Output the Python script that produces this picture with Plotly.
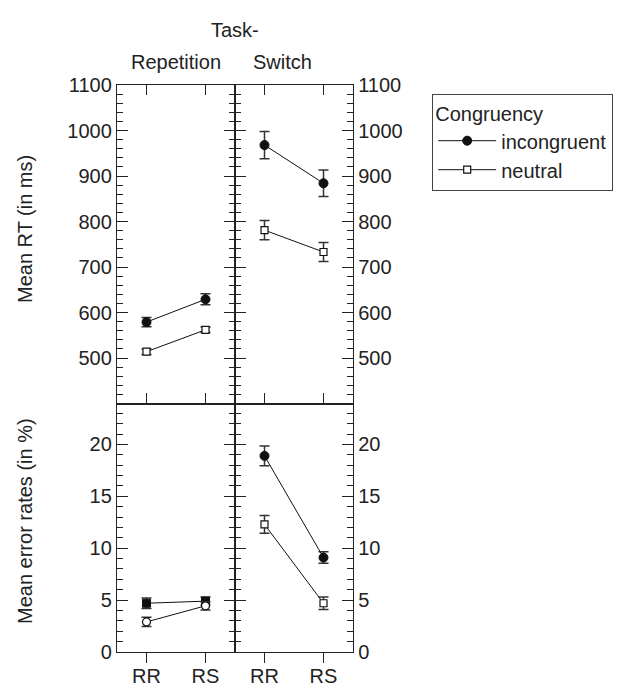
import plotly.graph_objects as go

conditions = ["RR", "RS"]
x_pos = [0, 1]

# Reaction times (ms)
rt_rep_incong = [579, 629]
rt_rep_incong_err = [10, 12]
rt_rep_neutral = [514, 562]
rt_rep_neutral_err = [6, 6]
rt_sw_incong = [968, 884]
rt_sw_incong_err = [30, 29]
rt_sw_neutral = [781, 733]
rt_sw_neutral_err = [21, 21]

# Error rates (%)
er_rep_incong = [4.7, 4.9]
er_rep_incong_err = [0.5, 0.4]
er_rep_neutral = [2.9, 4.45]
er_rep_neutral_err = [0.45, 0.4]
er_sw_incong = [18.9, 9.1]
er_sw_incong_err = [0.95, 0.55]
er_sw_neutral = [12.3, 4.7]
er_sw_neutral_err = [0.85, 0.6]

rt_ticks = [500, 600, 700, 800, 900, 1000, 1100]
er_ticks = [0, 5, 10, 15, 20]

FONT = "Liberation Sans, Arial, sans-serif"
INK = "#222222"
W, H = 620, 688
FS = 20

def px_x(p):
    return p / W

def px_y(p):
    return 1 - p / H

xL = [px_x(117), px_x(235)]
xR = [px_x(235), px_x(353)]
yT = [px_y(404), px_y(85)]
yB = [px_y(652), px_y(404)]

fig = go.Figure()

def add(xa, ya, y, err, kind, name, show, symbol=None, msize=None):
    if kind == "incong":
        marker = dict(symbol=symbol or "circle", size=msize or 9, color="#111111",
                      line=dict(color="#111111", width=1))
    else:
        marker = dict(symbol=symbol or "square", size=msize or 7, color="white",
                      line=dict(color="#111111", width=1.2))
    fig.add_trace(go.Scatter(
        x=x_pos, y=y, xaxis=xa, yaxis=ya, mode="lines+markers",
        name=name, showlegend=show, legendgroup=name,
        line=dict(color="#111111", width=1),
        marker=marker,
        error_y=dict(type="data", array=err, visible=True, color="#333333",
                     thickness=1.5, width=5),
    ))

add("x", "y", rt_rep_incong, rt_rep_incong_err, "incong", "incongruent", True)
add("x", "y", rt_rep_neutral, rt_rep_neutral_err, "neutral", "neutral", True)
add("x2", "y2", rt_sw_incong, rt_sw_incong_err, "incong", "incongruent", False)
add("x2", "y2", rt_sw_neutral, rt_sw_neutral_err, "neutral", "neutral", False)
add("x3", "y3", er_rep_incong, er_rep_incong_err, "incong", "incongruent", False, symbol="square", msize=8)
add("x3", "y3", er_rep_neutral, er_rep_neutral_err, "neutral", "neutral", False, symbol="circle", msize=8)
add("x4", "y4", er_sw_incong, er_sw_incong_err, "incong", "incongruent", False)
add("x4", "y4", er_sw_neutral, er_sw_neutral_err, "neutral", "neutral", False)

tickfont = dict(family=FONT, size=FS, color=INK)

def xax(domain, anchor, bottom_labels, ticks):
    return dict(
        domain=domain, anchor=anchor, range=[-0.5, 1.5],
        tickmode="array", tickvals=x_pos, ticktext=conditions,
        showticklabels=bottom_labels, ticks=ticks, ticklen=10, tickwidth=1.2,
        tickcolor=INK, showline=True, linecolor=INK, linewidth=1.3,
        mirror="ticks", showgrid=False, zeroline=False, tickfont=tickfont,
        ticklabelstandoff=-4,
        fixedrange=True, automargin=False,
    )

def yax(domain, anchor, rng, tickvals, minor_dtick, minor_tick0, side, labels):
    return dict(
        domain=domain, anchor=anchor, range=rng,
        tickmode="array", tickvals=tickvals, side=side,
        showticklabels=labels, ticks="inside", ticklen=11, tickwidth=1.2,
        tickcolor=INK, showline=True, linecolor=INK, linewidth=1.3,
        mirror="ticks", showgrid=False, zeroline=False, tickfont=tickfont,
        minor=dict(ticks="inside", ticklen=6, tickwidth=1, tickcolor=INK,
                   tickmode="linear", tick0=minor_tick0, dtick=minor_dtick, showgrid=False),
        fixedrange=True, automargin=False,
    )

def label(text, x, y, angle=0):
    return dict(text=text, x=px_x(x), y=px_y(y), xref="paper", yref="paper",
                xanchor="center", yanchor="middle", showarrow=False,
                textangle=angle, font=dict(size=FS))

fig.update_layout(
    width=W, height=H,
    margin=dict(l=0, r=0, t=0, b=0, autoexpand=False),
    paper_bgcolor="white", plot_bgcolor="white",
    font=dict(family=FONT, size=FS, color=INK),
    xaxis=xax(xL, "y", False, "inside"),
    xaxis2=xax(xR, "y2", False, "inside"),
    xaxis3=xax(xL, "y3", True, "outside"),
    xaxis4=xax(xR, "y4", True, "outside"),
    yaxis=yax(yT, "x", [399, 1100], rt_ticks, 20, 400, "left", True),
    yaxis2=yax(yT, "x2", [399, 1100], rt_ticks, 20, 400, "right", True),
    yaxis3=yax(yB, "x3", [0, 23.9], er_ticks, 1, 0, "left", True),
    yaxis4=yax(yB, "x4", [0, 23.9], er_ticks, 1, 0, "right", True),
    legend=dict(
        x=px_x(432), y=px_y(94), xanchor="left", yanchor="top",
        bordercolor="#444444", borderwidth=1.2, bgcolor="white",
        title=dict(text="Congruency", font=dict(family=FONT, size=FS, color=INK)),
        font=dict(family=FONT, size=FS, color=INK),
        tracegroupgap=0, itemwidth=58,
    ),
    annotations=[
        label("Task-", 235, 30),
        label("Repetition", 176, 62),
        label("Switch", 282, 62),
        label("Mean RT (in ms)", 25, 229, -90),
        label("Mean error rates (in %)", 25, 521, -90),
    ],
)

fig.write_html("out.html", config={"displayModeBar": False},
               post_script="document.body.style.margin='0';")
